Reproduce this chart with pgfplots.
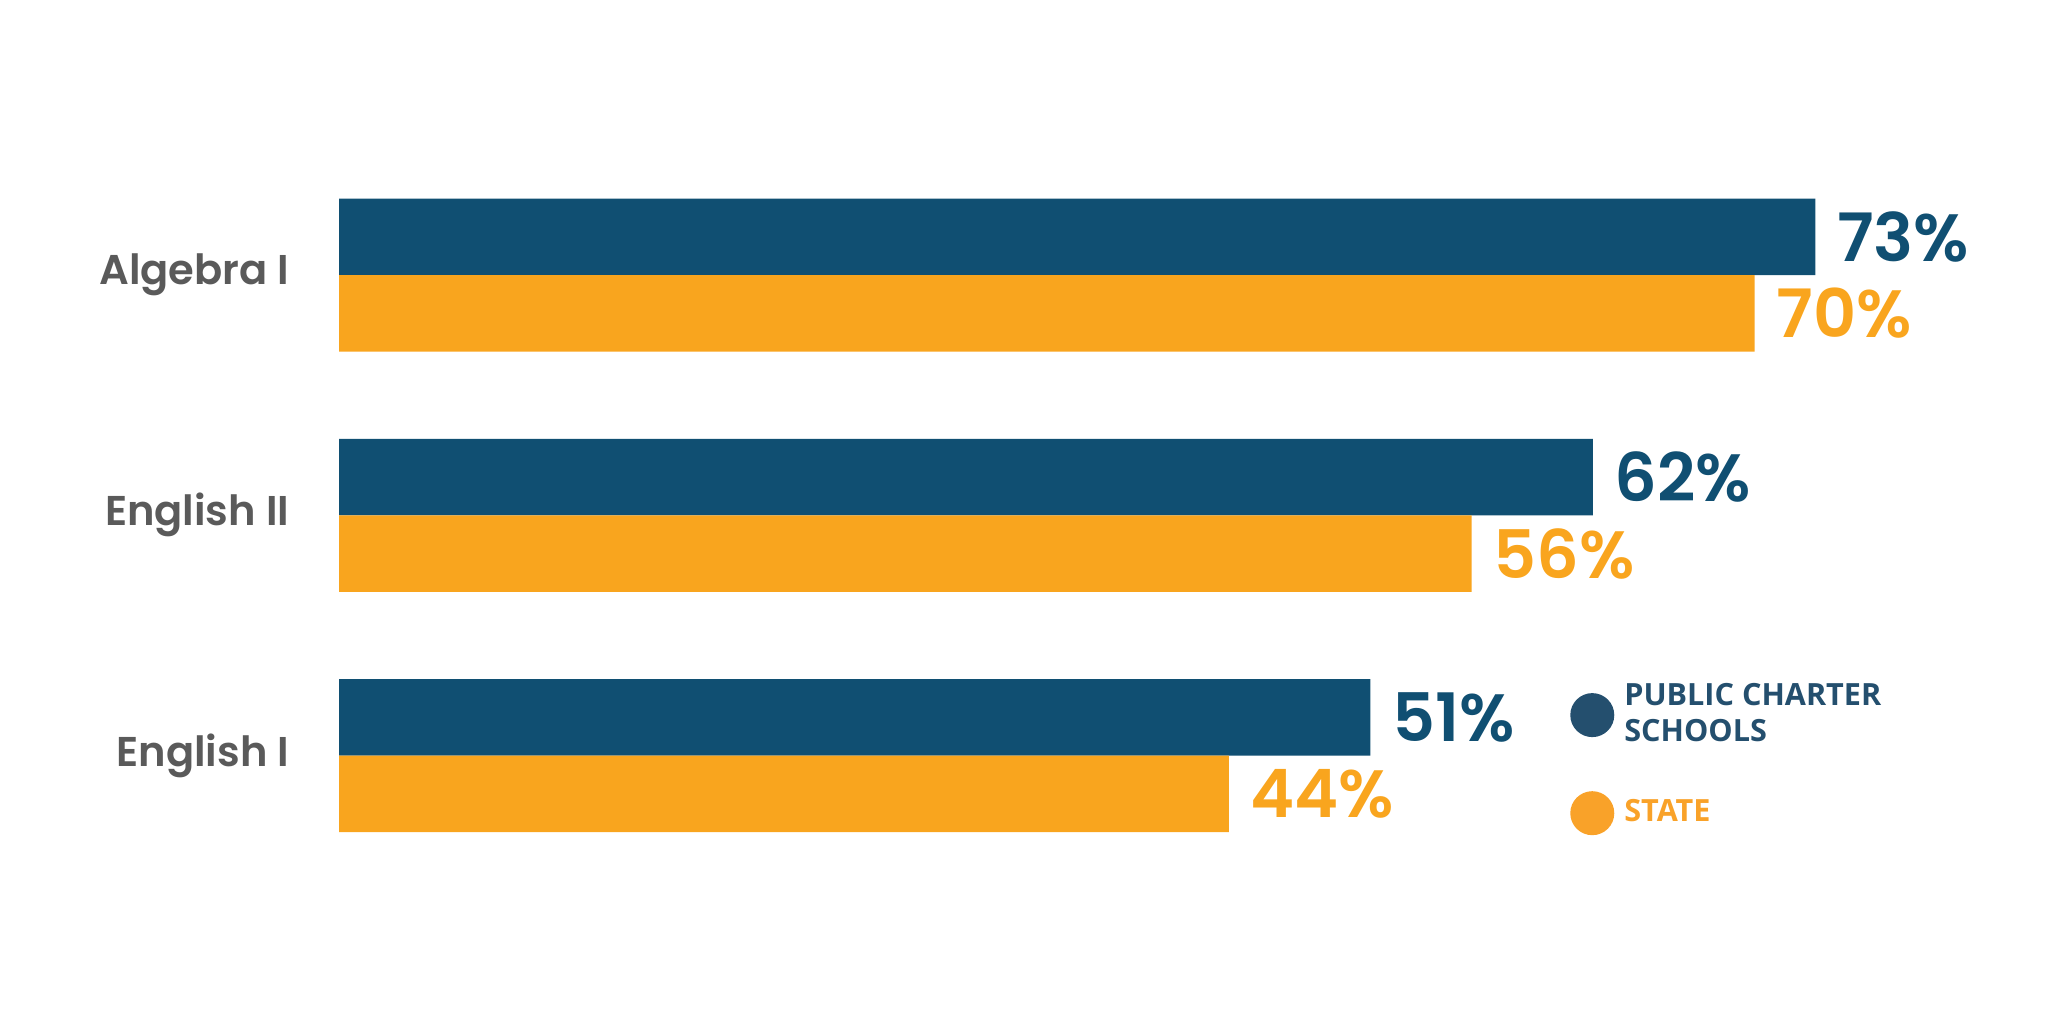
\documentclass[border=0pt]{standalone}
\usepackage{pgfplots}
\pgfplotsset{compat=1.18}
\usepackage{fontspec}
\setmainfont{Poppins}[BoldFont={* SemiBold}]
\newfontfamily\legfont{Open Sans}
\definecolor{cblue}{HTML}{104F72}
\definecolor{corange}{HTML}{F9A51E}
\definecolor{lblue}{HTML}{244F6E}
\definecolor{lorange}{HTML}{F9A229}
\definecolor{catgray}{HTML}{5A5A5A}
\begin{document}
\begin{tikzpicture}
\path[use as bounding box] (0,0) rectangle (512pt,256pt);
\begin{axis}[
  at={(84.75pt,37.07pt)}, anchor=south west,
  scale only axis, width=404.5pt, height=180.19pt,
  xmin=0, xmax=80, ymin=-0.5, ymax=2.5,
  xbar, bar width=19.125pt,
  hide x axis,
  y axis line style={draw=none},
  major tick length=0pt,
  ytick={0,1,2},
  yticklabels={English I,English II,Algebra I},
  yticklabel style={font=\fontsize{10.4}{12.5}\selectfont\bfseries, text=catgray, inner sep=0pt, xshift=-12.25pt},
  clip=false,
  nodes near coords={\pgfmathprintnumber[assume math mode=true]{\pgfplotspointmeta}\%},
  nodes near coords style={font=\fontsize{16.7}{19}\selectfont\bfseries, inner sep=0pt, anchor=west, xshift=5.25pt},
  legend style={at={(0.761,0.2673)}, anchor=north west, draw=none, fill=none,
    inner sep=0pt, outer sep=0pt, row sep=11pt, column sep=2.5pt,
    font=\legfont\bfseries\fontsize{7.65}{9}\selectfont,
    nodes={inner sep=0pt, outer sep=0pt}},
  legend cell align=left,
]
\addplot[fill=cblue, draw=none, bar shift=9.5625pt,
  nodes near coords style={text=cblue},
  legend image code/.code={\fill[lblue] (0pt,0pt) circle (5.5pt);}]
  coordinates {(73,2) (62,1) (51,0)};
\addlegendentry[text=lblue, align=left]{PUBLIC CHARTER\\SCHOOLS}
\addplot[fill=corange, draw=none, bar shift=-9.5625pt,
  nodes near coords style={text=corange},
  legend image code/.code={\fill[lorange] (0pt,0pt) circle (5.5pt);}]
  coordinates {(70,2) (56,1) (44,0)};
\addlegendentry[text=lorange, align=left]{STATE}
\end{axis}
\end{tikzpicture}
\end{document}
